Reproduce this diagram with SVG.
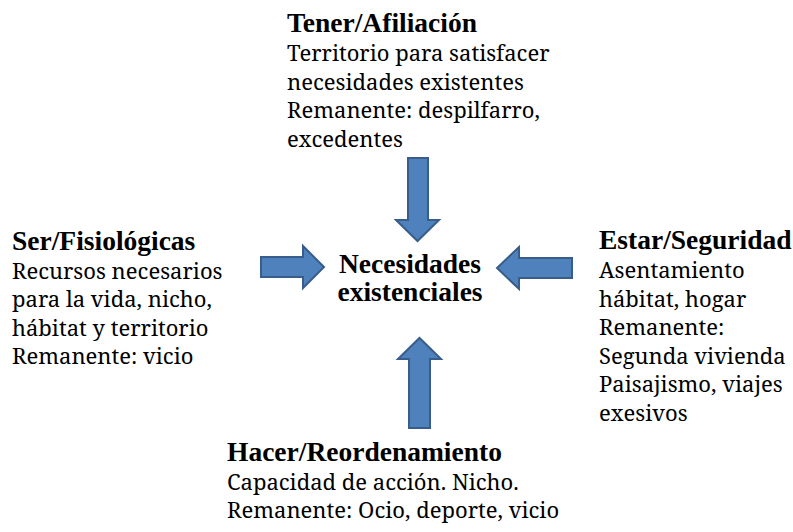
<svg xmlns="http://www.w3.org/2000/svg" width="793" height="532" viewBox="0 0 793 532">
<defs>
<style>
.arrow{fill:#4F81BD;stroke:#385D8A;stroke-width:2;stroke-linejoin:miter}
</style>
</defs>
<rect width="793" height="532" fill="#fff"/>
<g id="tener">
<text x="287" y="32" font-family="Liberation Serif, serif" font-size="27.5" font-weight="bold">Tener/Afiliación</text>
<text x="287" y="61" font-family="Noto Serif, DejaVu Serif, serif" font-size="22">Territorio para satisfacer</text>
<text x="287" y="89.5" font-family="Noto Serif, DejaVu Serif, serif" font-size="22">necesidades existentes</text>
<text x="287" y="118" font-family="Noto Serif, DejaVu Serif, serif" font-size="22">Remanente: despilfarro,</text>
<text x="287" y="147" font-family="Noto Serif, DejaVu Serif, serif" font-size="22">excedentes</text>
</g>
<g id="ser">
<text x="12" y="250" font-family="Liberation Serif, serif" font-size="27.5" font-weight="bold">Ser/Fisiológicas</text>
<text x="12" y="278.5" font-family="Noto Serif, DejaVu Serif, serif" font-size="22">Recursos necesarios</text>
<text x="12" y="307" font-family="Noto Serif, DejaVu Serif, serif" font-size="22">para la vida, nicho,</text>
<text x="12" y="335.5" font-family="Noto Serif, DejaVu Serif, serif" font-size="22">hábitat y territorio</text>
<text x="12" y="364" font-family="Noto Serif, DejaVu Serif, serif" font-size="22">Remanente: vicio</text>
</g>
<g id="necesidades">
<text x="410" y="272.5" font-family="Liberation Serif, serif" font-size="27.5" font-weight="bold" text-anchor="middle">Necesidades</text>
<text x="410" y="300.5" font-family="Liberation Serif, serif" font-size="27.5" font-weight="bold" text-anchor="middle">existenciales</text>
</g>
<g id="estar">
<text x="599" y="249" font-family="Liberation Serif, serif" font-size="27.5" font-weight="bold">Estar/Seguridad</text>
<text x="599" y="278" font-family="Noto Serif, DejaVu Serif, serif" font-size="22">Asentamiento</text>
<text x="599" y="306.5" font-family="Noto Serif, DejaVu Serif, serif" font-size="22">hábitat, hogar</text>
<text x="599" y="335" font-family="Noto Serif, DejaVu Serif, serif" font-size="22">Remanente:</text>
<text x="599" y="363.5" font-family="Noto Serif, DejaVu Serif, serif" font-size="22">Segunda vivienda</text>
<text x="599" y="392" font-family="Noto Serif, DejaVu Serif, serif" font-size="22">Paisajismo, viajes</text>
<text x="599" y="420.5" font-family="Noto Serif, DejaVu Serif, serif" font-size="22">exesivos</text>
</g>
<g id="hacer">
<text x="227" y="461" font-family="Liberation Serif, serif" font-size="27.5" font-weight="bold">Hacer/Reordenamiento</text>
<text x="227" y="489.5" font-family="Noto Serif, DejaVu Serif, serif" font-size="22">Capacidad de acción. Nicho.</text>
<text x="227" y="518" font-family="Noto Serif, DejaVu Serif, serif" font-size="22">Remanente: Ocio, deporte, vicio</text>
</g>
<g id="connectors">
<polygon class="arrow" points="408,158 428,158 428,220 439,220 417.5,241 396,220 408,220"/>
<polygon class="arrow" points="261,257 303,257 303,246 324,267 303,288 303,277 261,277"/>
<polygon class="arrow" points="572,258 519,258 519,247 497,268 519,289 519,278 572,278"/>
<polygon class="arrow" points="409,428 409,359 398,359 419.5,338 441,359 430,359 430,428"/>
</g>
</svg>
